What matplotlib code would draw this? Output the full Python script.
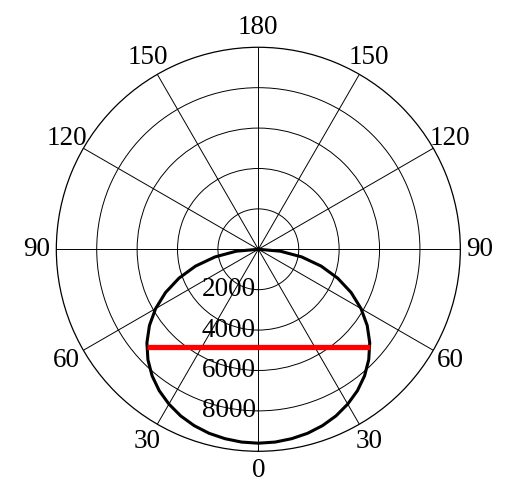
import numpy as np
import matplotlib
matplotlib.use("Agg")
import matplotlib.pyplot as plt

plt.rcParams['font.family'] = ['Liberation Serif', 'DejaVu Serif']

# ---- data ----
angle_ticks = [0, 30, 60, 90, 120, 150, 180, 210, 240, 270, 300, 330]
angle_labels = ['0', '30', '60', '90', '120', '150', '180', '150', '120', '90', '60', '30']
radial_ticks = [2000, 4000, 6000, 8000]
radial_labels = ['2000', '4000', '6000', '8000']
r_max = 10000

# black pattern: angle from bottom (deg) and radius, symmetric on both sides
curve_angles = [0, 5, 10, 15, 20, 25, 30, 35, 40, 45, 50, 55, 60, 65, 70, 75, 80, 85, 90]
curve_r = [9600, 9580, 9520, 9430, 9290, 9100, 8850, 8550, 8180, 7730,
           7200, 6580, 5870, 5070, 4180, 3220, 2180, 1100, 0]

# red horizontal segment: depth below centre and half width (data units)
red_depth = 4820
red_half_width = 5520

fig = plt.figure(figsize=(5.18, 5.04), dpi=100)
ax = fig.add_axes([0.1087, 0.1046, 0.780, 0.8016], projection='polar')
ax.set_theta_zero_location('S')
ax.set_ylim(0, r_max)

ax.set_xticks(np.deg2rad(angle_ticks))
ax.set_xticklabels(angle_labels, fontsize=19.5)
ax.tick_params(axis='x', pad=3.5)
ax.set_yticks(radial_ticks)
ax.set_yticklabels([])
ax.grid(True, color='black', linewidth=0.7)
ax.spines['polar'].set_linewidth(0.9)
ax.spines['polar'].set_color('black')

for r, lab in zip(radial_ticks, radial_labels):
    ax.annotate(lab, xy=(0, r), xytext=(-2, 0), textcoords='offset points',
                ha='right', va='center', fontsize=19.5, zorder=5)

# full closed curve
ang = np.array(curve_angles, dtype=float)
rr = np.array(curve_r, dtype=float)
full_ang = np.concatenate([-ang[::-1], ang[1:]])
full_r = np.concatenate([rr[::-1], rr[1:]])
ax.plot(np.deg2rad(full_ang), full_r, color='black', linewidth=2.2, zorder=4)

# red straight segment, converted to polar coordinates
xs = np.linspace(-red_half_width, red_half_width, 60)
th = np.arctan2(xs, red_depth)
rad = np.hypot(xs, red_depth)
ax.plot(th, rad, color='#ff0000', linewidth=3.8, zorder=6, solid_capstyle='butt')

fig.savefig('out.png', dpi=100)
